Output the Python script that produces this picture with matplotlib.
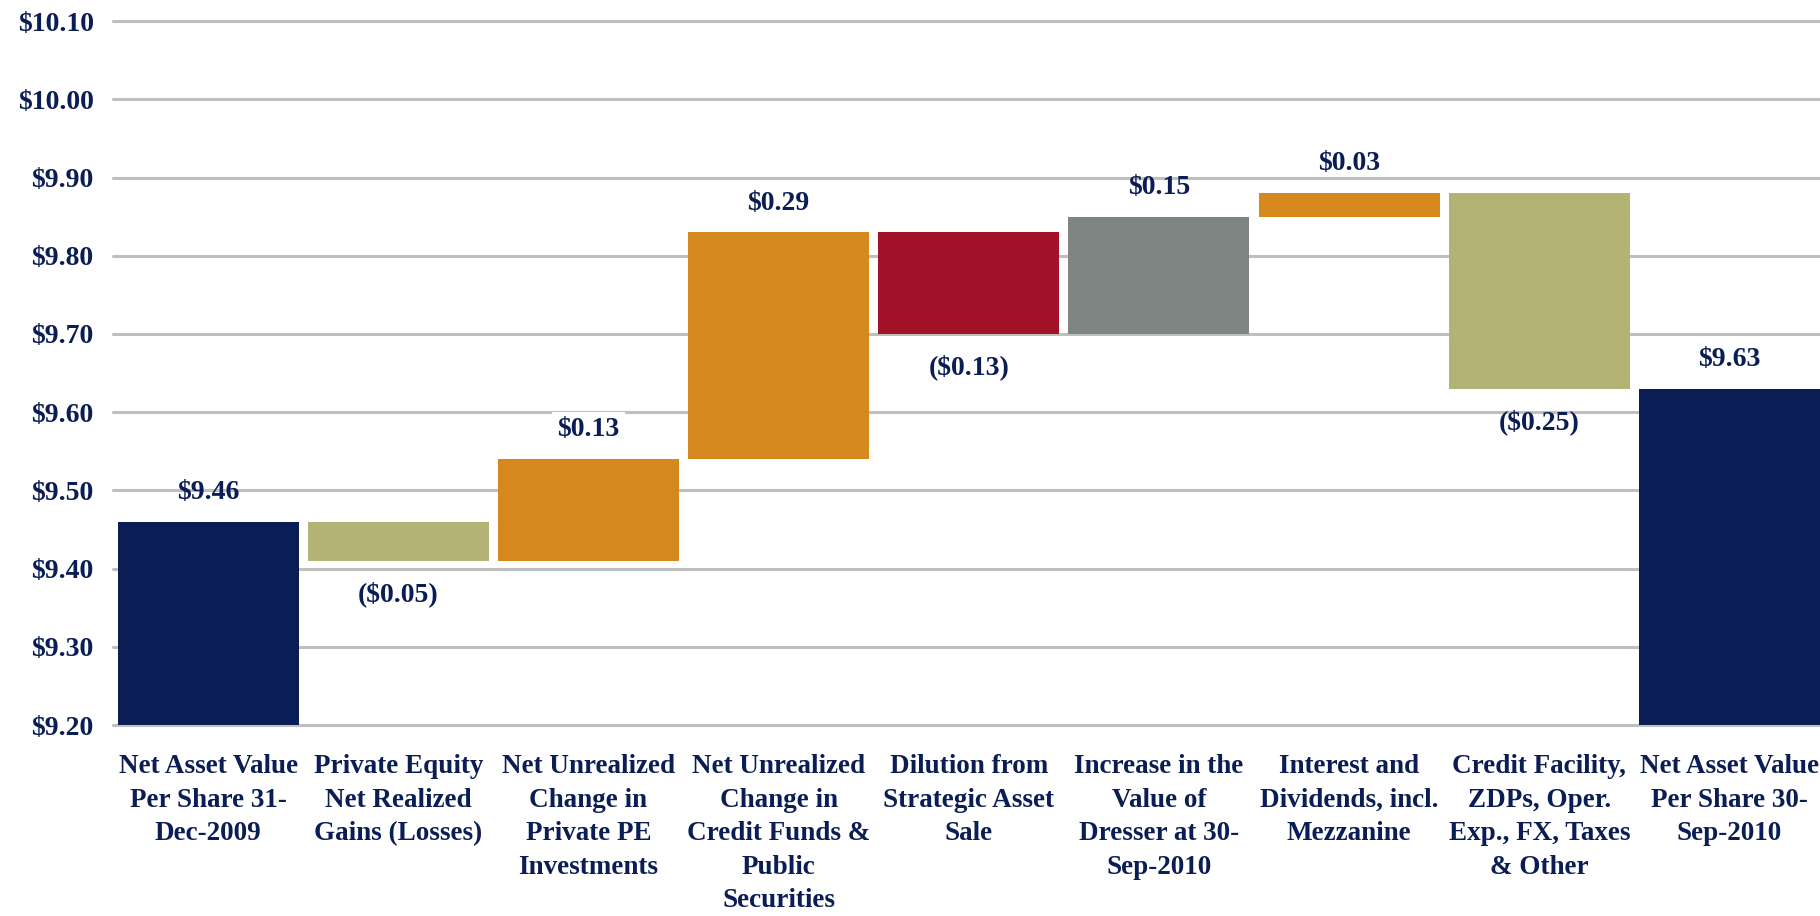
import matplotlib.pyplot as plt
import numpy as np

# data
categories = [
    "Net Asset Value\nPer Share 31-\nDec-2009",
    "Private Equity\nNet Realized\nGains (Losses)",
    "Net Unrealized\nChange in\nPrivate PE\nInvestments",
    "Net Unrealized\nChange in\nCredit Funds &\nPublic\nSecurities",
    "Dilution from\nStrategic Asset\nSale",
    "Increase in the\nValue of\nDresser at 30-\nSep-2010",
    "Interest and\nDividends, incl.\nMezzanine",
    "Credit Facility,\nZDPs, Oper.\nExp., FX, Taxes\n& Other",
    "Net Asset Value\nPer Share 30-\nSep-2010",
]
start_nav = 9.46
changes = [-0.05, 0.13, 0.29, -0.13, 0.15, 0.03, -0.25]
end_nav = 9.63
y_ticks = [9.20, 9.30, 9.40, 9.50, 9.60, 9.70, 9.80, 9.90, 10.00, 10.10]

NAVY = "#0b1d55"
colors = [NAVY, "#b3b376", "#d4881e", "#d4881e", "#a11228",
          "#7e8583", "#d4881e", "#b3b376", NAVY]

plt.rcParams['font.family'] = ['Liberation Serif', 'DejaVu Serif']
plt.rcParams['font.weight'] = 'bold'

# waterfall bottoms / heights
levels = np.concatenate([[start_nav], start_nav + np.cumsum(changes)])
bottoms = [y_ticks[0]]
heights = [start_nav - y_ticks[0]]
for i, c in enumerate(changes):
    bottoms.append(min(levels[i], levels[i + 1]))
    heights.append(abs(c))
bottoms.append(y_ticks[0])
heights.append(end_nav - y_ticks[0])

fig = plt.figure(figsize=(18.2, 9.16), dpi=100)
ax = fig.add_axes([0.0621, 0.2085, 0.9379, 0.7685])

x = np.arange(len(categories))
ax.bar(x, heights, bottom=bottoms, width=0.952, color=colors, zorder=2)

ax.set_ylim(y_ticks[0], y_ticks[-1])
ax.set_xlim(-0.5, 8.476)
ax.set_yticks(y_ticks)
ax.set_yticklabels(["$%.2f" % v for v in y_ticks])
ax.set_xticks(x)
ax.set_xticklabels(categories, linespacing=1.45, fontsize=19.5)

ax.yaxis.grid(True, color="#bfbfbf", linewidth=2.2, zorder=0)
ax.set_axisbelow(True)
for gl in ax.get_ygridlines():
    gl.set_clip_on(False)
    gl.set_solid_capstyle('round')
for s in ax.spines.values():
    s.set_visible(False)
ax.tick_params(axis='both', length=0, labelcolor=NAVY)
ax.tick_params(axis='y', pad=14, labelsize=20)
ax.tick_params(axis='x', pad=21)

# value labels
labels_vals = [start_nav] + changes + [end_nav]
for i, v in enumerate(labels_vals):
    if v >= 0:
        txt = "$%.2f" % v
        y = bottoms[i] + heights[i]
        off = 21
    else:
        txt = "($%.2f)" % abs(v)
        y = bottoms[i]
        off = -24
    bbox = None
    if i == 2:
        bbox = dict(facecolor='white', edgecolor='none', pad=4)
    ax.annotate(txt, (x[i], y), xytext=(0, off), textcoords='offset points',
                ha='center', va='center', fontsize=20, color=NAVY,
                fontweight='bold', bbox=bbox, zorder=3)

plt.savefig("out.png", dpi=100, facecolor='w')
